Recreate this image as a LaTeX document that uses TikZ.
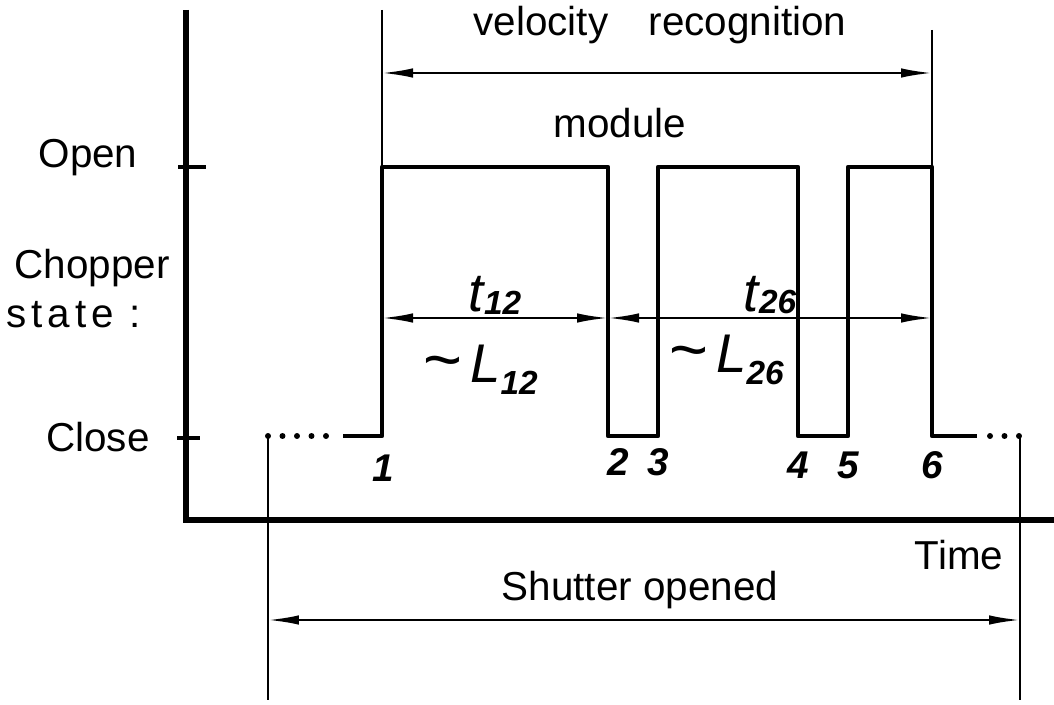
\documentclass[tikz,border=0pt]{standalone}
\usepackage{fontspec}
\setmainfont{Liberation Sans}
\usetikzlibrary{arrows.meta}
\newcommand\lowidx[2]{\raisebox{-#2}{\fontsize{19}{19}\selectfont\bfseries #1}}

\begin{document}
\begin{tikzpicture}[x=0.02cm, y=-0.02cm, >={Latex[length=0.62cm,width=0.19cm]}]
  \tikzset{
    axis/.style={line width=3.1pt,black},
    wave/.style={line width=2.6pt,black,line join=round},
    dots/.style={line width=3.4pt,black,line cap=round,dash pattern=on 0pt off 0.29cm},
    guide/.style={line width=1.1pt,black},
    dimarr/.style={<->,line width=1.3pt,black},
    lab/.style={font=\fontsize{23}{25}\selectfont,inner sep=0pt},
    hand/.style={font=\fontsize{22}{24}\selectfont\bfseries\itshape,inner sep=0pt},
    big/.style={font=\fontsize{31}{33}\selectfont\itshape,inner sep=0pt}
  }
  \useasboundingbox (0,0) rectangle (1054,705);

  % Axes
  \coordinate (ytop) at (186,10);
  \coordinate (orig) at (186,520);
  \coordinate (xend) at (1054,520);
  \draw[axis] (ytop) -- (orig) -- (xend);
  \draw[wave] (178,167) -- (206,167);
  \draw[wave] (177,438) -- (200,438);
  \node[lab] (open)  at (88,158)  {Open};
  \node[lab] (chop)  at (92,268)  {Chopper};
  \node[lab] (state) at (74,315)  {\addfontfeature{LetterSpace=12}state :};
  \node[lab] (close) at (98,437)  {Close};
  \node[lab] (time)  at (959,555) {Time};

  % Chopper pulses
  \coordinate (sl) at (343,436);
  \coordinate (c1) at (382,436); \coordinate (o1) at (382,167);
  \coordinate (c2) at (608,436); \coordinate (o2) at (608,167);
  \coordinate (c3) at (658,436); \coordinate (o3) at (658,167);
  \coordinate (c4) at (798,436); \coordinate (o4) at (798,167);
  \coordinate (c5) at (848,436); \coordinate (o5) at (848,167);
  \coordinate (c6) at (932,436); \coordinate (o6) at (932,167);
  \coordinate (sr) at (977,436);
  \draw[wave] (sl) -- (c1) -- (o1) -- (o2) -- (c2) -- (c3) -- (o3) -- (o4)
    -- (c4) -- (c5) -- (o5) -- (o6) -- (c6) -- (sr);
  \draw[dots] (268,436) -- (330,436);
  \draw[dots] (990,436) -- (1020,436);
  \node[hand] (n1) at (383,468) {1};
  \node[hand] (n2) at (618,462) {2};
  \node[hand] (n3) at (658,462) {3};
  \node[hand] (n4) at (798,465) {4};
  \node[hand] (n5) at (848,465) {5};
  \node[hand] (n6) at (932,465) {6};

  % Velocity recognition module
  \coordinate (vl) at (382,10);
  \coordinate (vr) at (932,30);
  \draw[guide] (vl) -- (o1);
  \draw[guide] (vr) -- (o6);
  \coordinate (va) at (382,73);
  \coordinate (vb) at (932,73);
  \draw[dimarr] (va) -- (vb);
  \node[lab] (velo) at (660,25) {velocity\hspace{1em}recognition};
  \node[lab] (modu) at (620,123) {module};

  % Flight times
  \coordinate (ta) at (382,318);
  \coordinate (tb) at (608,318);
  \coordinate (tc) at (932,318);
  \draw[dimarr] (ta) -- (tb);
  \draw[dimarr] (tb) -- (tc);
  \node[big] (t12) at (495,295) {t\lowidx{12}{0.1ex}};
  \node[big] (t26) at (770,295) {t\lowidx{26}{0.1ex}};
  \node[big] (l12) at (480,370) {{\fontsize{38}{38}\selectfont\textasciitilde}\,L\lowidx{12}{0.4ex}};
  \node[big] (l26) at (726,360) {{\fontsize{38}{38}\selectfont\textasciitilde}\,L\lowidx{26}{0.4ex}};

  % Shutter
  \coordinate (sa) at (268,436);
  \coordinate (sb) at (1020,436);
  \draw[guide] (sa) -- (268,700);
  \draw[guide] (sb) -- (1020,700);
  \coordinate (sc) at (268,620);
  \coordinate (sd) at (1020,620);
  \draw[dimarr] (sc) -- (sd);
  \node[lab] (shut) at (640,590) {Shutter opened};
\end{tikzpicture}
\end{document}
